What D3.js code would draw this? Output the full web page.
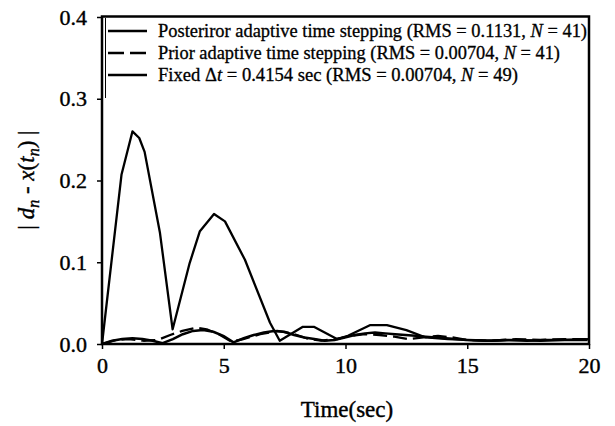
<!DOCTYPE html>
<html><head><meta charset="utf-8">
<script src="https://cdn.jsdelivr.net/npm/d3@7"></script>
<style>
html,body{margin:0;padding:0;background:#fff;}
svg{display:block;font-family:"Liberation Serif","Times New Roman",serif;}
</style></head>
<body><svg id="c" width="615" height="426"></svg>
<script>
const xTicks = [0, 5, 10, 15, 20];
const yTicks = [0.0, 0.1, 0.2, 0.3, 0.4];

// Posteriror adaptive time stepping (solid)
const posteriorT = [0, 0.8, 1.25, 1.53, 1.75, 2.38, 2.9, 3.6, 4.02, 4.6, 5.05, 5.87, 6.9, 7.3, 8.25, 8.7, 9.65, 10.1, 11.0, 11.7, 12.5, 13.3, 14.2, 15.0, 16.0, 17.0, 18.0, 19.0, 20.0];
const posteriorV = [0, 0.207, 0.260, 0.252, 0.235, 0.136, 0.018, 0.099, 0.138, 0.159, 0.150, 0.103, 0.026, 0.004, 0.021, 0.021, 0.006, 0.010, 0.023, 0.023, 0.017, 0.008, 0.006, 0.005, 0.004, 0.005, 0.004, 0.005, 0.006];

// Prior adaptive time stepping (dashed)
const priorT = [0, 0.6, 1.1, 1.7, 2.3, 2.8, 3.3, 3.9, 4.3, 4.8, 5.3, 5.8, 6.5, 7.2, 7.8, 8.4, 9.0, 9.6, 10.2, 10.8, 11.4, 12.0, 12.6, 13.2, 13.8, 14.4, 15.0, 16.0, 17.0, 18.0, 19.0, 20.0];
const priorV = [0, 0.005, 0.006, 0.004, 0.005, 0.011, 0.016, 0.020, 0.018, 0.012, 0.003, 0.006, 0.012, 0.016, 0.013, 0.007, 0.004, 0.006, 0.010, 0.012, 0.011, 0.009, 0.006, 0.008, 0.010, 0.008, 0.005, 0.004, 0.006, 0.005, 0.006, 0.006];

// Fixed dt = 0.4154 sec (solid)
const fixedT = [0, 0.42, 0.83, 1.25, 1.66, 2.08, 2.49, 2.91, 3.32, 3.74, 4.15, 4.57, 4.98, 5.40, 5.82, 6.23, 6.65, 7.06, 7.48, 7.89, 8.31, 8.72, 9.14, 9.55, 9.97, 10.38, 10.80, 11.21, 11.63, 12.04, 12.46, 12.87, 13.29, 13.71, 14.12, 14.54, 14.95, 15.78, 16.62, 17.45, 18.28, 19.11, 19.94];
const fixedV = [0, 0.004, 0.006, 0.007, 0.006, 0.004, 0.001, 0.006, 0.012, 0.016, 0.017, 0.015, 0.010, 0.002, 0.007, 0.011, 0.014, 0.016, 0.015, 0.011, 0.008, 0.006, 0.004, 0.005, 0.008, 0.011, 0.013, 0.014, 0.013, 0.012, 0.011, 0.010, 0.009, 0.008, 0.007, 0.006, 0.005, 0.004, 0.005, 0.004, 0.005, 0.005, 0.005];

const legendLabels = [
  [["Posteriror adaptive time stepping (RMS = 0.1131, ", false], ["N", true], [" = 41)", false]],
  [["Prior adaptive time stepping (RMS = 0.00704, ", false], ["N", true], [" = 41)", false]],
  [["Fixed ", false], ["\u0394", false], ["t", true], [" = 0.4154 sec (RMS = 0.00704, ", false], ["N", true], [" = 49)", false]]
];
const legendWidths = [429, 402, 360];

const svg = d3.select("#c");
const x = d3.scaleLinear().domain([0, 20]).range([102, 589]);
const y = d3.scaleLinear().domain([0, 0.4]).range([344, 17]);

const series = [
  {t: posteriorT, v: posteriorV, dash: null, w: 2.3},
  {t: priorT, v: priorV, dash: "14,6", w: 2.3},
  {t: fixedT, v: fixedV, dash: null, w: 2.5}
];
const line = d3.line().x(d => x(d[0])).y(d => y(d[1]));
series.forEach(s => {
  svg.append("path")
    .datum(s.t.map((t, i) => [t, s.v[i]]))
    .attr("d", line)
    .attr("fill", "none").attr("stroke", "#000")
    .attr("stroke-width", s.w)
    .attr("stroke-linejoin", "round")
    .attr("stroke-dasharray", s.dash);
});

// axes
const xAxis = svg.append("g").attr("transform", "translate(0,344)")
  .call(d3.axisBottom(x).tickValues(xTicks).tickSize(5).tickPadding(8).tickFormat(d3.format("d")));
const yAxis = svg.append("g").attr("transform", "translate(102,0)")
  .call(d3.axisLeft(y).tickValues(yTicks).tickSize(5).tickPadding(10).tickFormat(d3.format(".1f")));
[xAxis, yAxis].forEach(a => {
  a.select(".domain").remove();
  a.selectAll(".tick line").attr("stroke", "#000").attr("stroke-width", 1.5);
  a.selectAll(".tick text").attr("fill", "#000").attr("stroke", "#000").attr("stroke-width", 0.4)
    .style("font-family", "Liberation Serif").style("font-size", "22px");
});

// frame
svg.append("rect").attr("x", 102).attr("y", 16.5).attr("width", 487).attr("height", 327.5)
  .attr("fill", "none").attr("stroke", "#000").attr("stroke-width", 2.5);

// legend
svg.append("line").attr("x1", 105.5).attr("x2", 105.5).attr("y1", 18).attr("y2", 98)
  .attr("stroke", "#000").attr("stroke-width", 1);
const legY = [31, 53, 75];
legendLabels.forEach((parts, i) => {
  svg.append("line").attr("x1", 108).attr("x2", 147).attr("y1", legY[i]).attr("y2", legY[i])
    .attr("stroke", "#000").attr("stroke-width", 2.3)
    .attr("stroke-dasharray", series[i].dash ? "16,6" : null);
  const tx = svg.append("text").attr("x", 158).attr("y", legY[i] + 6)
    .attr("textLength", legendWidths[i]).attr("lengthAdjust", "spacingAndGlyphs")
    .attr("stroke", "#000").attr("stroke-width", 0.3)
    .style("font-size", "18px").attr("fill", "#000");
  parts.forEach(p => tx.append("tspan").text(p[0]).style("font-style", p[1] ? "italic" : "normal"));
});

// x title
svg.append("text").attr("x", 347).attr("y", 417).attr("text-anchor", "middle")
  .attr("stroke", "#000").attr("stroke-width", 0.4)
  .style("font-size", "23px").text("Time(sec)");

// y title
const yt = svg.append("text").attr("transform", "translate(34,180) rotate(-90)")
  .attr("text-anchor", "middle").attr("stroke", "#000").attr("stroke-width", 0.4)
  .style("font-size", "23px");
yt.append("tspan").text("| ");
yt.append("tspan").text("d").style("font-style", "italic");
yt.append("tspan").text("n").style("font-style", "italic").style("font-size", "16px").attr("dy", 5);
yt.append("tspan").text(" - ").attr("dy", -5);
yt.append("tspan").text("x").style("font-style", "italic");
yt.append("tspan").text("(");
yt.append("tspan").text("t").style("font-style", "italic");
yt.append("tspan").text("n").style("font-style", "italic").style("font-size", "16px").attr("dy", 5);
yt.append("tspan").text(")").attr("dy", -5);
yt.append("tspan").text(" |");
</script></body></html>
